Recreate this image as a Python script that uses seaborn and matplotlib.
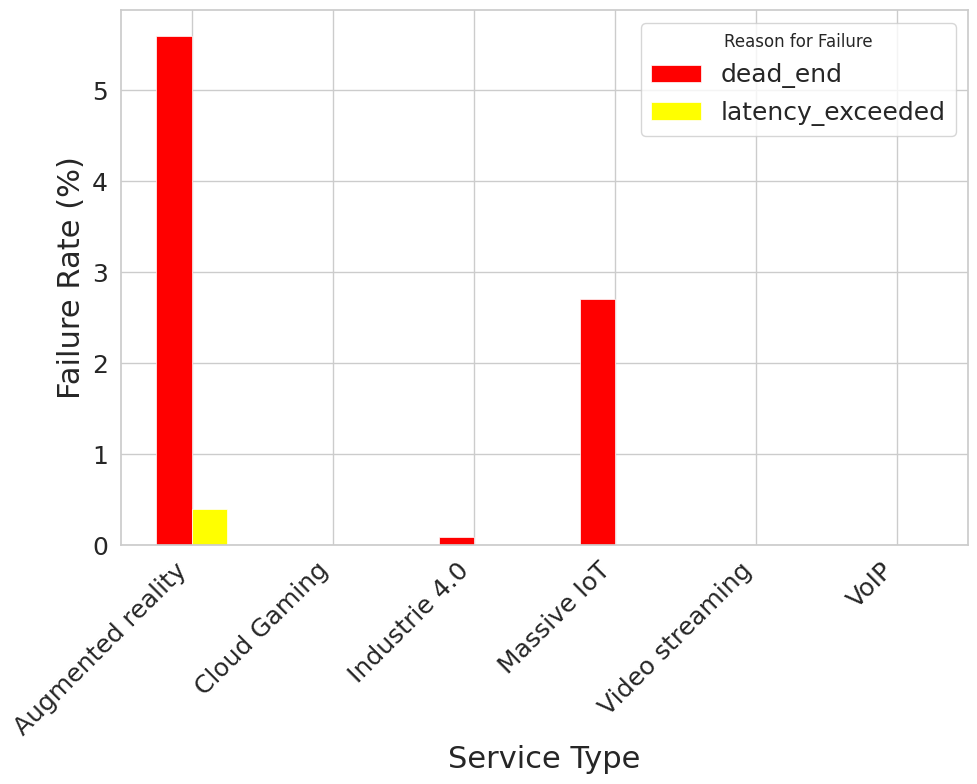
import matplotlib
matplotlib.use("Agg")
import matplotlib.pyplot as plt
import seaborn as sns
import pandas as pd

categories = ["Augmented reality", "Cloud Gaming", "Industrie 4.0", "Massive IoT", "Video streaming", "VoIP"]
dead_end = [5.6, 0.0, 0.09, 2.7, 0.0, 0.0]
latency_exceeded = [0.4, 0.0, 0.0, 0.0, 0.0, 0.0]
reasons = ["dead_end", "latency_exceeded"]
colors = ["#ff0000", "#ffff00"]

rows = []
for c, d, l in zip(categories, dead_end, latency_exceeded):
    rows.append({"Service Type": c, "Reason for Failure": "dead_end", "Failure Rate (%)": d})
    rows.append({"Service Type": c, "Reason for Failure": "latency_exceeded", "Failure Rate (%)": l})
df = pd.DataFrame(rows)

sns.set_theme(style="whitegrid")
fig, ax = plt.subplots(figsize=(9.77, 7.84), dpi=100)
sns.barplot(data=df, x="Service Type", y="Failure Rate (%)", hue="Reason for Failure",
            hue_order=reasons, order=categories, palette=colors, width=0.5,
            edgecolor="white", linewidth=0.5, ax=ax, errorbar=None, saturation=1)
ax.set_axisbelow(True)
ax.grid(True, axis="both")
ax.set_xlim(-0.5, len(categories) - 0.5)
ax.set_ylim(0, max(dead_end) * 1.05)
ax.set_xlabel("Service Type", fontsize=22)
ax.set_ylabel("Failure Rate (%)", fontsize=22)
ax.tick_params(axis="both", labelsize=18)
plt.setp(ax.get_xticklabels(), rotation=45, ha="right", rotation_mode="default")
leg = ax.legend(title="Reason for Failure", fontsize=18, title_fontsize=12, loc="upper right")
fig.subplots_adjust(left=0.1238, right=0.9908, top=0.9872, bottom=0.3048)
fig.savefig("out.png", dpi=100)
